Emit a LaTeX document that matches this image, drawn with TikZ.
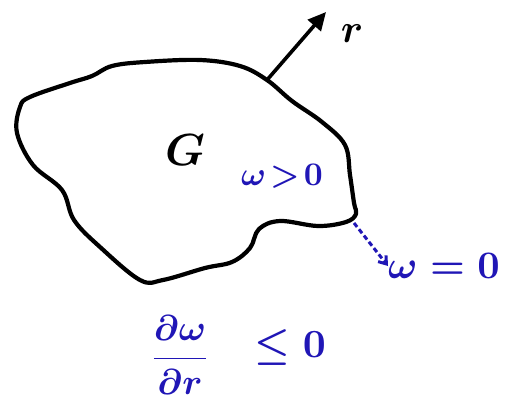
\documentclass[tikz,border=0pt]{standalone}
\usepackage{graphicx}
\usetikzlibrary{arrows.meta}
\definecolor{pen}{RGB}{32,22,182}
\newcommand{\hw}[2][4]{\scalebox{#1}{\boldmath$#2$}}
\begin{document}
\begin{tikzpicture}[x=1pt,y=-1pt,
  blob/.style={line width=4.2pt,line join=round,black},
  bluetxt/.style={text=pen,inner sep=0pt},
  blacktxt/.style={text=black,inner sep=0pt}]
\useasboundingbox (0,0) rectangle (508,407);
\fill[white] (0,0) rectangle (508,407);
\draw[blob] plot[smooth cycle,tension=0.6] coordinates {
 (30,97) (70,83) (92,76) (112,66) (145,62) (200,60) (240,66) (267,80)
 (292,101) (322,122) (345,145) (350,175) (354,203) (356,214) (346,222)
 (318,226) (280,221) (259,229) (250,248) (232,262) (205,268)
 (163,280) (140,280) (100,247) (74,220) (62,190) (33,165)
 (17,133) (20,107)};
\coordinate (rb) at (267,80);
\coordinate (rt) at (326,12);
\draw[line width=3.6pt,-{Triangle[length=18pt,width=17pt]}] (rb) -- (rt);
\node[blacktxt] (r) at (352,34) {\hw{r}};
\node[blacktxt] (G) at (185,150) {\hw[4.5]{G}};
\node[bluetxt] (wp) at (282,176) {\hw[3.3]{\omega\!>\!0}};
\coordinate (bd) at (354,223);
\node[bluetxt,anchor=west] (w0) at (388,266) {\hw[3.9]{\omega=0}};
\draw[pen,line width=3pt,dash pattern=on 5pt off 3pt,-{Straight Barb[length=7pt,width=10pt]}] (bd) -- (w0.west);
\node[bluetxt] (frac) at (180,355) {\hw[3.6]{\displaystyle\frac{\partial\omega}{\partial r}}};
\node[bluetxt] (le) at (290,347) {\hw{\leq 0}};
\end{tikzpicture}
\end{document}
